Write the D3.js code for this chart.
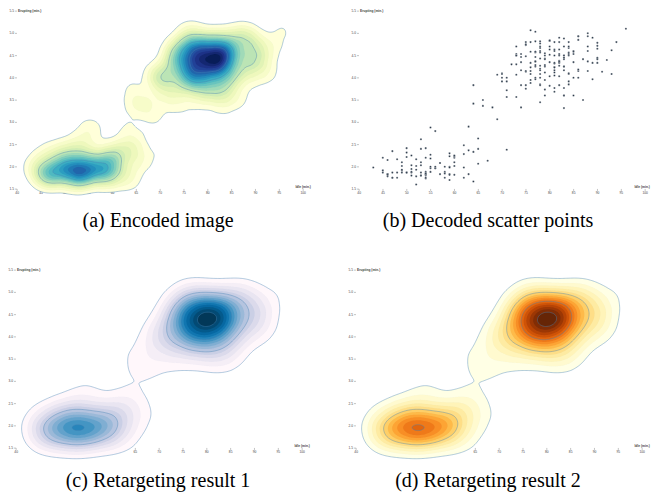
<!DOCTYPE html>
<html>
<head>
<meta charset="utf-8">
<script src="https://cdn.jsdelivr.net/npm/d3@7"></script>
<style>
  body { margin: 0; background: #fff; }
  .caption { font-family: "Liberation Serif", "Times New Roman", serif; font-size: 20px; fill: #000; }
</style>
</head>
<body>
<svg id="fig" width="651" height="494"></svg>
<script>
// Old Faithful readings: idle time (min.) and eruption length (min.)
const idle = [
  79,54,74,62,85,55,88,85,51,85, 54,84,78,47,83,52,62,84,52,79,
  51,47,78,69,74,83,55,76,78,79, 73,77,66,80,74,52,48,80,59,90,
  80,58,84,58,73,83,64,53,82,59, 75,90,54,80,54,83,71,64,77,81,
  59,84,48,82,60,92,78,78,65,73, 82,56,79,71,62,76,60,78,76,83,
  75,82,70,65,73,88,76,80,48,86, 60,90,50,78,63,72,84,75,51,82,
  62,88,49,83,81,47,84,52,86,81, 75,59,89,79,59,81,50,85,59,87,
  53,69,77,56,88,81,45,82,55,90, 45,83,56,89,46,82,51,86,53,79,
  81,60,82,77,76,59,80,49,96,53, 77,77,65,81,71,70,81,93,53,89,
  45,86,58,78,66,76,63,88,52,93, 49,57,77,68,81,81,73,50,85,74,
  55,77,83,83,51,78,84,46,83,55, 81,57,76,84,77,81,87,77,51,78,
  60,82,91,53,78,46,77,84,49,83, 71,80,49,75,64,76,53,94,55,76,
  50,82,54,75,78,79,78,78,70,79, 70,54,86,50,90,54,54,77,79,64,
  75,47,86,63,85,82,57,82,67,74, 54,83,73,73,88,80,71,83,56,79,
  78,84,58,83,43,60,75,81,46,90,46,74
];
const erupting = [
  3.600,1.800,3.333,2.283,4.533,2.883,4.700,3.600,1.950,4.350, 1.833,3.917,4.200,1.750,4.700,2.167,1.750,4.800,1.600,4.250,
  1.800,1.750,3.450,3.067,4.533,3.600,1.967,4.083,3.850,4.433, 4.300,4.467,3.367,4.033,3.833,2.017,1.867,4.833,1.833,4.783,
  4.350,1.883,4.567,1.750,4.533,3.317,3.833,2.100,4.633,2.000, 4.800,4.716,1.833,4.833,1.733,4.883,3.717,1.667,4.567,4.317,
  2.233,4.500,1.750,4.800,1.817,4.400,4.167,4.700,2.067,4.700, 4.033,1.967,4.500,4.000,1.983,5.067,2.017,4.567,3.883,3.600,
  4.133,4.333,4.100,2.633,4.067,4.933,3.950,4.517,2.167,4.000, 2.200,4.333,1.867,4.817,1.833,4.300,4.667,3.750,1.867,4.900,
  2.483,4.367,2.100,4.500,4.050,1.867,4.700,1.783,4.850,3.683, 4.733,2.300,4.900,4.417,1.700,4.633,2.317,4.600,1.817,4.417,
  2.617,4.067,4.250,1.967,4.600,3.767,1.917,4.500,2.267,4.650, 1.867,4.167,2.800,4.333,1.833,4.383,1.883,4.933,2.033,3.733,
  4.233,2.233,4.533,4.817,4.333,1.983,4.633,2.017,5.100,1.800, 5.033,4.000,2.400,4.600,3.567,4.000,4.500,4.083,1.800,3.967,
  2.200,4.150,2.000,3.833,3.500,4.583,2.367,5.000,1.933,4.617, 1.917,2.083,4.583,3.333,4.167,4.333,4.500,2.417,4.000,4.167,
  1.883,4.583,4.250,3.767,2.033,4.433,4.083,1.833,4.417,2.183, 4.800,1.833,4.800,4.100,3.966,4.233,3.500,4.366,2.250,4.667,
  2.100,4.350,4.133,1.867,4.600,1.783,4.367,3.850,1.933,4.500, 2.383,4.700,1.867,3.833,3.417,4.233,2.400,4.800,2.000,4.150,
  1.867,4.267,1.750,4.483,4.000,4.117,4.083,4.267,3.917,4.550, 4.083,2.417,4.183,2.217,4.450,1.883,1.850,4.283,3.950,2.333,
  4.150,2.350,4.933,2.900,4.583,3.833,2.083,4.367,2.133,4.350, 2.200,4.450,3.567,4.500,4.150,3.817,3.917,4.450,2.000,4.283,
  4.767,4.533,1.850,4.250,1.983,2.250,4.750,4.117,2.150,4.417,1.817,4.467
];
const xTicks = [40, 45, 50, 55, 60, 65, 70, 75, 80, 85, 90, 95, 100];
const yTicks = [1.5, 2.0, 2.5, 3.0, 3.5, 4.0, 4.5, 5.0, 5.5];
const xLabel = "Idle (min.)";
const yLabel = "Erupting (min.)";
const captions = ["(a) Encoded image", "(b) Decoded scatter points",
                  "(c) Retargeting result 1", "(d) Retargeting result 2"];

// each panel is a 928x600 chart shrunk into its quarter of the figure
const W = 928, H = 600;
const margin = {top: 20, right: 20, bottom: 30, left: 40};
const sx = 0.3295, sy = 0.3236;

const x = d3.scaleLinear().domain([40, 100]).range([margin.left, W - margin.right]);
const y = d3.scaleLinear().domain([1.5, 5.5]).range([H - margin.bottom, margin.top]);

const points = idle.map((w, i) => [w, erupting[i]]);

// bw = kernel width, lo = lowest band as share of the peak, n = number of bands
const panels = [
  {tx: 3.8,   ty: 4.5,   kind: "density", bw: 24, lo: 0.045, n: 20, scheme: d3.interpolateYlGnBu, cx: 158, cy: 227, lx: 0},
  {tx: 345.8, ty: 4.5,   kind: "scatter", cx: 488, cy: 227, lx: -9},
  {tx: 2.8,   ty: 263.5, kind: "density", bw: 36, lo: 0.065, n: 16, scheme: d3.interpolatePuBu, cx: 158, cy: 487, lx: 0},
  {tx: 342.8, ty: 263.5, kind: "density", bw: 36, lo: 0.065, n: 16, scheme: d3.interpolateYlOrBr, cx: 488, cy: 487, lx: 0}
];

// pick n evenly spaced levels out of a fine stack of contours
function bands(p) {
  const fine = d3.contourDensity()
      .x(d => x(d[0]))
      .y(d => y(d[1]))
      .size([W, H])
      .bandwidth(p.bw)
      .thresholds(300)(points);
  const top = d3.max(fine, d => d.value);
  const picked = [];
  for (let i = 0; i < p.n; i++) {
    const want = top * (p.lo + (1 - p.lo) * i / p.n);
    const c = d3.least(fine, d => Math.abs(d.value - want));
    if (!picked.includes(c)) picked.push(c);
  }
  return picked.sort((a, b) => a.value - b.value);
}

const svg = d3.select("#fig");

panels.forEach((p, k) => {
  const g = svg.append("g")
      .attr("transform", `translate(${p.tx},${p.ty}) scale(${sx},${sy})`);

  // axes first, the density is painted over them
  g.append("g")
      .attr("color", "#444")
      .attr("transform", `translate(0,${H - margin.bottom})`)
      .call(d3.axisBottom(x).tickValues(xTicks).tickSizeOuter(0))
      .call(a => a.select(".domain").remove())
      .call(a => a.select(".tick:last-of-type text").clone()
          .attr("y", -3)
          .attr("dy", null)
          .attr("dx", p.lx)
          .attr("font-weight", "bold")
          .text(xLabel));

  g.append("g")
      .attr("color", "#444")
      .attr("transform", `translate(${margin.left},0)`)
      .call(d3.axisLeft(y).tickValues(yTicks).tickFormat(d3.format(".1f")).tickSizeOuter(0))
      .call(a => a.select(".domain").remove())
      .call(a => a.select(".tick:last-of-type text").clone()
          .attr("x", 3)
          .attr("text-anchor", "start")
          .attr("font-weight", "bold")
          .text(yLabel));

  if (p.kind === "density") {
    const contours = bands(p);
    const color = d3.scaleSequential(d3.extent(contours, d => d.value), p.scheme);

    g.append("g")
        .attr("stroke", "steelblue")
        .attr("stroke-linejoin", "round")
      .selectAll("path")
      .data(contours)
      .join("path")
        .attr("fill", d => color(d.value))
        .attr("stroke-opacity", (d, i) => i % 5 ? 0.2 : 0.8)
        .attr("stroke-width", (d, i) => i % 5 ? 0.3 : 1.6)
        .attr("d", d3.geoPath());
  } else {
    g.append("g")
        .attr("fill", "#2a3848")
        .attr("stroke", "#fff")
        .attr("stroke-width", 1)
      .selectAll("circle")
      .data(points)
      .join("circle")
        .attr("cx", d => x(d[0]))
        .attr("cy", d => y(d[1]))
        .attr("r", 3.2);
  }

  svg.append("text")
      .attr("class", "caption")
      .attr("x", p.cx)
      .attr("y", p.cy)
      .attr("text-anchor", "middle")
      .text(captions[k]);
});
</script>
</body>
</html>
